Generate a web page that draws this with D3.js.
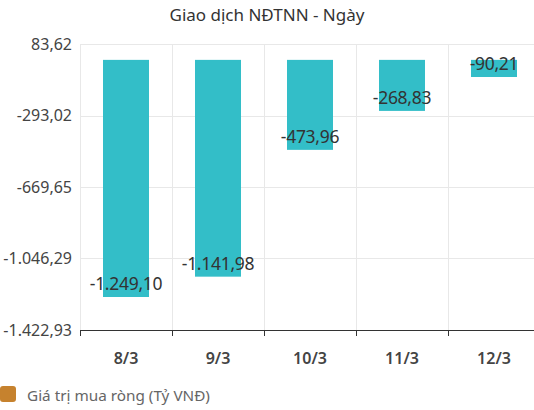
<!DOCTYPE html>
<html>
<head>
<meta charset="utf-8">
<script src="https://cdn.jsdelivr.net/npm/d3@7"></script>
<style>
  body { margin: 0; background: #fff; font-family: "Noto Sans", "Open Sans", sans-serif; }
  svg { display: block; }
</style>
</head>
<body>
<script>
/********************************************************/
// data
const categories = ["8/3", "9/3", "10/3", "11/3", "12/3"];
const netBuy = [-1249.10, -1141.98, -473.96, -268.83, -90.21];
const yTicks = [83.62, -293.02, -669.65, -1046.29, -1422.93];
const title = "Giao dịch NĐTNN - Ngày";
const legendLabel = "Giá trị mua ròng (Tỷ VNĐ)";

/********************************************************/
const svgWidth = 534;
const svgHeight = 410;

const chartMargin = { top: 44, left: 80, bottom: 80 };
const plotBottom = 330;

const svg = d3
  .select("body")
  .append("svg")
  .attr("width", svgWidth)
  .attr("height", svgHeight);

// number format like -1.249,10 (plain hyphen, dot thousands, comma decimals)
const fmt = (v) => {
  let s = d3.format(",.2f")(Math.abs(v));
  s = s.replace(/,/g, "#").replace(/\./g, ",").replace(/#/g, ".");
  return (v < 0 ? "-" : "") + s;
};

/************** scales ************/
const xScale = d3
  .scaleBand()
  .domain(categories)
  .range([80, 540])
  .paddingInner(0)
  .paddingOuter(0);

const yScale = d3
  .scaleLinear()
  .domain([d3.min(yTicks), d3.max(yTicks)])
  .range([plotBottom, chartMargin.top]);

/************** grid ************/
svg
  .append("g")
  .selectAll("line")
  .data(yTicks)
  .enter()
  .append("line")
  .attr("x1", 80)
  .attr("x2", svgWidth)
  .attr("y1", (d) => Math.round(yScale(d)) + 0.5)
  .attr("y2", (d) => Math.round(yScale(d)) + 0.5)
  .attr("stroke", "#e8e8e8");

svg
  .append("g")
  .selectAll("line")
  .data(categories)
  .enter()
  .append("line")
  .attr("x1", (d) => Math.round(xScale(d)) + 0.5)
  .attr("x2", (d) => Math.round(xScale(d)) + 0.5)
  .attr("y1", chartMargin.top)
  .attr("y2", plotBottom)
  .attr("stroke", "#e8e8e8");

/************** y axis labels ************/
const leftAxis = d3.axisLeft(yScale).tickValues(yTicks).tickFormat(fmt).tickSize(0).tickPadding(8);
const yAxisG = svg
  .append("g")
  .attr("transform", `translate(80,0)`)
  .call(leftAxis);
yAxisG.select(".domain").remove();
yAxisG.selectAll("text")
  .attr("font-size", "16px")
  .attr("font-family", "Noto Sans")
  .attr("fill", "#444");

/************** bars ************/
const barW = 46;
svg
  .selectAll(".bar")
  .data(netBuy)
  .enter()
  .append("rect")
  .classed("bar", true)
  .attr("x", (d, i) => xScale(categories[i]) + xScale.bandwidth() / 2 - barW / 2)
  .attr("y", yScale(0))
  .attr("width", barW)
  .attr("height", (d) => yScale(d) - yScale(0))
  .attr("fill", "#33bec8");

svg
  .selectAll(".barlabel")
  .data(netBuy)
  .enter()
  .append("text")
  .classed("barlabel", true)
  .text((d) => fmt(d))
  .attr("x", (d, i) => xScale(categories[i]) + xScale.bandwidth() / 2)
  .attr("y", (d) => yScale(d) - 13)
  .attr("dy", "0.35em")
  .attr("text-anchor", "middle")
  .attr("font-size", "17.5px")
  .attr("letter-spacing", "-0.3px")
  .attr("fill", "#333");

/************** x axis ************/
const axisG = svg.append("g");
axisG
  .append("line")
  .attr("x1", 80)
  .attr("x2", svgWidth)
  .attr("y1", plotBottom + 0.5)
  .attr("y2", plotBottom + 0.5)
  .attr("stroke", "#333");
axisG
  .selectAll(".tick")
  .data(categories)
  .enter()
  .append("line")
  .attr("x1", (d) => Math.round(xScale(d)) + 0.5)
  .attr("x2", (d) => Math.round(xScale(d)) + 0.5)
  .attr("y1", plotBottom)
  .attr("y2", plotBottom + 6)
  .attr("stroke", "#333");
axisG
  .selectAll(".xlabel")
  .data(categories)
  .enter()
  .append("text")
  .text((d) => d)
  .attr("x", (d) => xScale(d) + xScale.bandwidth() / 2)
  .attr("y", 358)
  .attr("dy", "0.35em")
  .attr("text-anchor", "middle")
  .attr("font-size", "16px")
  .attr("font-weight", "600")
  .attr("fill", "#444");

/************** title & legend ************/
svg
  .append("text")
  .text(title)
  .attr("x", svgWidth / 2)
  .attr("y", 15)
  .attr("dy", "0.35em")
  .attr("text-anchor", "middle")
  .attr("font-size", "17px")
  .attr("fill", "#333");

svg
  .append("rect")
  .attr("x", 0)
  .attr("y", 386)
  .attr("width", 16)
  .attr("height", 16)
  .attr("rx", 3)
  .attr("fill", "#c6822e");

svg
  .append("text")
  .text(legendLabel)
  .attr("x", 27)
  .attr("y", 396)
  .attr("dy", "0.35em")
  .attr("font-size", "15.3px")
  .attr("fill", "#666");
</script>
</body>
</html>
